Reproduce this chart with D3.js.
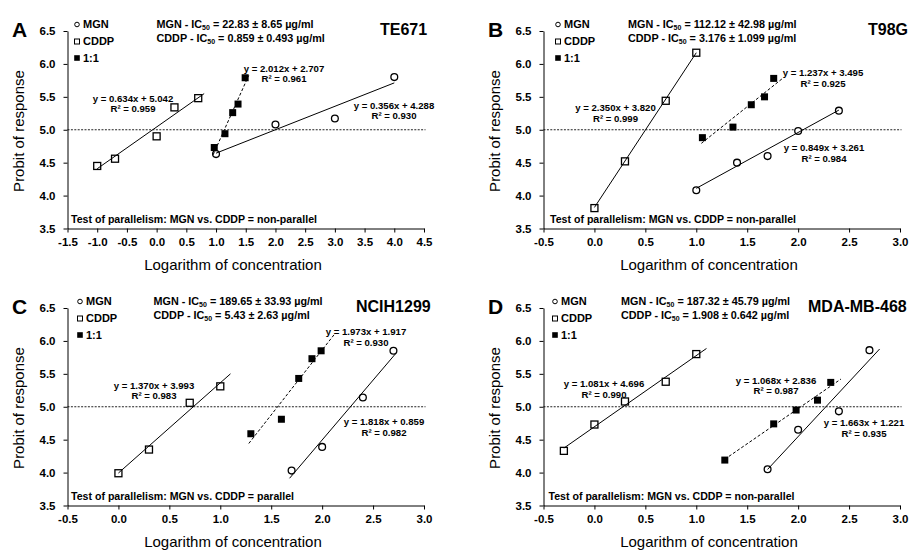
<!DOCTYPE html>
<html><head><meta charset="utf-8">
<script src="https://cdn.jsdelivr.net/npm/d3@7"></script>
<style>
body{margin:0;background:#fff}
svg{display:block}
text{font-family:"Liberation Sans",Arial,sans-serif;fill:#000}
</style>
</head><body>
<svg id="c" width="911" height="550"></svg>
<script>
// ---------------- DATA ----------------
const panelLetters = ["A", "B", "C", "D"];
const cellLines = ["TE671", "T98G", "NCIH1299", "MDA-MB-468"];
const mgnIC50 = ["22.83 ± 8.65", "112.12 ± 42.98", "189.65 ± 33.93", "187.32 ± 45.79"];
const cddpIC50 = ["0.859 ± 0.493", "3.176 ± 1.099", "5.43 ± 2.63", "1.908 ± 0.642"];
const parallelism = ["non-parallel", "non-parallel", "parallel", "non-parallel"];
const xDomains = [[-1.5, 4.5], [-0.5, 3.0], [-0.5, 3.0], [-0.5, 3.0]];
const yDomain = [3.5, 6.5];
const yTicks = [3.5, 4.0, 4.5, 5.0, 5.5, 6.0, 6.5];
const referenceProbit = 5.0;
const seriesNames = ["MGN", "CDDP", "1:1"];

// MGN (open circles)
const mgnX = [[1.0, 2.0, 3.0, 4.0], [1.0, 1.4, 1.7, 2.0, 2.4], [1.7, 2.0, 2.4, 2.7], [1.7, 2.0, 2.4, 2.7]];
const mgnY = [[4.63, 5.08, 5.17, 5.80], [4.08, 4.50, 4.60, 4.98, 5.29], [4.03, 4.39, 5.14, 5.85], [4.05, 4.65, 4.93, 5.86]];
// CDDP (open squares)
const cddpX = [[-1.0, -0.7, 0.0, 0.3, 0.7], [0.0, 0.3, 0.7, 1.0], [0.0, 0.3, 0.7, 1.0], [-0.3, 0.0, 0.3, 0.7, 1.0]];
const cddpY = [[4.45, 4.56, 4.90, 5.34, 5.48], [3.81, 4.52, 5.44, 6.17], [3.99, 4.35, 5.06, 5.31], [4.33, 4.73, 5.08, 5.38, 5.80]];
// 1:1 combination (filled squares)
const combX = [[0.97, 1.15, 1.28, 1.37, 1.49], [1.06, 1.36, 1.54, 1.67, 1.76], [1.30, 1.60, 1.77, 1.90, 1.99], [1.28, 1.76, 1.98, 2.19, 2.32]];
const combY = [[4.73, 4.94, 5.26, 5.39, 5.79], [4.88, 5.04, 5.38, 5.50, 5.78], [4.59, 4.81, 5.43, 5.73, 5.85], [4.19, 4.74, 4.95, 5.10, 5.37]];

// Trendlines: [slope, intercept, R²] and x-extent
const mgnFit = [[0.356, 4.288, 0.930], [0.849, 3.261, 0.984], [1.818, 0.859, 0.982], [1.663, 1.221, 0.935]];
const cddpFit = [[0.634, 5.042, 0.959], [2.350, 3.820, 0.999], [1.370, 3.993, 0.983], [1.081, 4.696, 0.990]];
const combFit = [[2.012, 2.707, 0.961], [1.237, 3.495, 0.925], [1.973, 1.917, 0.930], [1.068, 2.836, 0.987]];
const mgnFitRange = [[1.0, 4.0], [1.0, 2.4], [1.68, 2.72], [1.7, 2.8]];
const cddpFitRange = [[-1.0, 0.8], [0.0, 1.0], [0.0, 1.1], [-0.3, 1.1]];
const combFitRange = [[0.95, 1.55], [1.05, 1.85], [1.28, 2.12], [1.28, 2.42]];

// ---------------- LAYOUT ----------------
const offsets = [[0, 0], [476, 0], [0, 277], [476, 277]];
const plot = {left: 67.5, right: 424, top: 31, bottom: 228.5};
const legendX = [77, 82, 80, 79];
const icX = [156.5, 152, 153.5, 145];
const titleX = [380, 392, 356, 332];
const testX = [71, 74, 71, 72.5];
const eqPos = { // [cx, baseline] for mgn, cddp, comb
  mgn: [[394, 108.5], [348, 151], [384, 148], [388, 149]],
  cddp: [[133, 101.5], [139.5, 111], [154, 111.5], [128, 110]],
  comb: [[284, 71.5], [347, 76], [366, 58], [300, 106.5]]
};

const svg = d3.select("#c");
const fmt = v => (v < 0 ? "-" : "") + Math.abs(v).toFixed(1);

panelLetters.forEach((L, i) => {
  const g = svg.append("g").attr("transform", `translate(${offsets[i][0]},${offsets[i][1]})`);
  const x = d3.scaleLinear().domain(xDomains[i]).range([plot.left, plot.right]);
  const y = d3.scaleLinear().domain(yDomain).range([plot.bottom, plot.top]);
  const n = Math.round((xDomains[i][1] - xDomains[i][0]) / 0.5);
  const xt = d3.range(n + 1).map(k => +(xDomains[i][0] + k * 0.5).toFixed(2));

  // reference dotted line
  g.append("line")
    .attr("x1", plot.left).attr("x2", plot.right + 1.5)
    .attr("y1", y(referenceProbit)).attr("y2", y(referenceProbit))
    .attr("stroke", "#222").attr("stroke-width", 1).attr("stroke-dasharray", "2,1.4");

  // axes
  const xa = g.append("g").attr("transform", `translate(0,${plot.bottom})`)
    .call(d3.axisBottom(x).tickValues(xt).tickFormat(fmt).tickSize(4).tickSizeOuter(0).tickPadding(5.5));
  const ya = g.append("g").attr("transform", `translate(${plot.left},0)`)
    .call(d3.axisLeft(y).tickValues(yTicks).tickFormat(d => d.toFixed(1)).tickSize(4).tickSizeOuter(0).tickPadding(8));
  [xa, ya].forEach(a => {
    a.selectAll("path,line").attr("stroke", "#000").attr("stroke-width", 1);
    a.selectAll("text").attr("font-size", "11.5px").attr("font-weight", "bold").attr("fill", "#000")
      .style("font-family", '"Liberation Sans",Arial,sans-serif');
  });

  // markers
  g.selectAll(".cd").data(d3.zip(cddpX[i], cddpY[i])).join("rect")
    .attr("x", d => x(d[0]) - 3.5).attr("y", d => y(d[1]) - 3.5)
    .attr("width", 7).attr("height", 7)
    .attr("fill", "#fff").attr("stroke", "#000").attr("stroke-width", 1.3);
  g.selectAll(".cb").data(d3.zip(combX[i], combY[i])).join("rect")
    .attr("x", d => x(d[0]) - 3.5).attr("y", d => y(d[1]) - 3.5)
    .attr("width", 7).attr("height", 7).attr("fill", "#000");
  g.selectAll(".mg").data(d3.zip(mgnX[i], mgnY[i])).join("circle")
    .attr("cx", d => x(d[0])).attr("cy", d => y(d[1])).attr("r", 3.4)
    .attr("fill", "#fff").attr("stroke", "#000").attr("stroke-width", 1.3);

  // trendlines
  const fits = [[mgnFit[i], mgnFitRange[i], null], [cddpFit[i], cddpFitRange[i], null], [combFit[i], combFitRange[i], "3,2"]];
  fits.forEach(([f, r, dash]) => {
    g.append("line")
      .attr("x1", x(r[0])).attr("y1", y(f[0] * r[0] + f[1]))
      .attr("x2", x(r[1])).attr("y2", y(f[0] * r[1] + f[1]))
      .attr("stroke", "#000").attr("stroke-width", 1)
      .attr("stroke-dasharray", dash);
  });

  // equations
  const eqs = [["mgn", mgnFit[i]], ["cddp", cddpFit[i]], ["comb", combFit[i]]];
  eqs.forEach(([k, f]) => {
    const p = eqPos[k][i];
    g.append("text").attr("x", p[0]).attr("y", p[1]).attr("text-anchor", "middle")
      .attr("font-size", "9.6px").attr("font-weight", "bold")
      .text(`y = ${f[0].toFixed(3)}x + ${f[1].toFixed(3)}`);
    g.append("text").attr("x", p[0]).attr("y", p[1] + 10.8).attr("text-anchor", "middle")
      .attr("font-size", "9.6px").attr("font-weight", "bold")
      .text(`R² = ${f[2].toFixed(3)}`);
  });

  // panel letter
  g.append("text").attr("x", 12).attr("y", 37).attr("font-size", "21px").attr("font-weight", "bold").text(L);
  // cell line title
  g.append("text").attr("x", titleX[i]).attr("y", 34.5).attr("font-size", "16px").attr("font-weight", "bold").text(cellLines[i]);

  // legend
  const ly = [24.5, 41.5, 58];
  const lx = legendX[i];
  g.append("circle").attr("cx", lx).attr("cy", ly[0]).attr("r", 2.3).attr("fill", "#fff").attr("stroke", "#000").attr("stroke-width", 1);
  g.append("rect").attr("x", lx - 2.5).attr("y", ly[1] - 2.5).attr("width", 5).attr("height", 5).attr("fill", "#fff").attr("stroke", "#000").attr("stroke-width", 1);
  g.append("rect").attr("x", lx - 2.8).attr("y", ly[2] - 2.8).attr("width", 5.6).attr("height", 5.6).attr("fill", "#000");
  seriesNames.forEach((s, k) => {
    g.append("text").attr("x", lx + 6).attr("y", ly[k] + 3.8).attr("font-size", "11px").attr("font-weight", "bold").text(s);
  });

  // IC50 lines
  const icLines = [["MGN", mgnIC50[i]], ["CDDP", cddpIC50[i]]];
  icLines.forEach(([nm, v], k) => {
    const t = g.append("text").attr("x", icX[i]).attr("y", 27.5 + k * 14).attr("font-size", "10.8px").attr("font-weight", "bold");
    t.append("tspan").text(`${nm} - IC`);
    t.append("tspan").attr("font-size", "7px").attr("dy", 2.5).text("50");
    t.append("tspan").attr("dy", -2.5).text(` = ${v} µg/ml`);
  });

  // test of parallelism
  g.append("text").attr("x", testX[i]).attr("y", 222.5).attr("font-size", "10.6px").attr("font-weight", "bold")
    .text(`Test of parallelism: MGN vs. CDDP = ${parallelism[i]}`);

  // axis titles
  g.append("text").attr("x", 233).attr("y", 270).attr("text-anchor", "middle").attr("font-size", "15px")
    .text("Logarithm of concentration");
  g.append("text").attr("transform", "translate(24,131) rotate(-90)").attr("text-anchor", "middle").attr("font-size", "15px")
    .text("Probit of response");
});
</script>
</body></html>
